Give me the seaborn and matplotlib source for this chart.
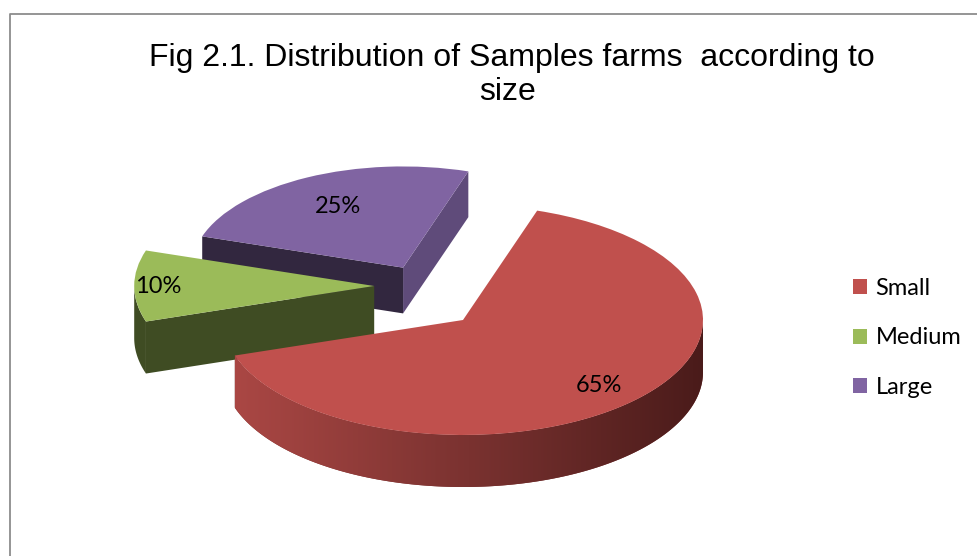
import numpy as np
import matplotlib
matplotlib.use("Agg")
import matplotlib.pyplot as plt
import seaborn as sns
from matplotlib.patches import Polygon
from matplotlib.colors import LinearSegmentedColormap

# dati del grafico
sizes = ["Small", "Medium", "Large"]
shares = [65, 10, 25]
explode = [0, 0.37, 0.55]

top_colors = ["#C0504D", "#9BBB59", "#8064A2"]
front_colors = ["#7B3331", "#3F4C23", "#32273F"]
light_colors = ["#7B3331", "#4A5A2A", "#5F4B7A"]

sns.set_style("white")
plt.rcParams['font.family'] = ['Lato', 'DejaVu Sans']
plt.rcParams['text.color'] = 'black'

W, H = 977, 556
CX, CY = 463, 320      # centro torta in pixel (da sinistra / dall'alto)
RX, RY = 240, 115      # semiassi dell'ellisse
DEPTH = 52 / RY        # spessore 3D in unita' dati

fig = plt.figure(figsize=(W / 100, H / 100), dpi=100)
ax = fig.add_axes([0, 0, 1, 1])

wedges, _ = ax.pie(shares, colors=top_colors, explode=explode,
                   startangle=72, counterclock=False,
                   wedgeprops=dict(linewidth=0))
ax.set_aspect('auto')
ax.set_xlim(-CX / RX, (W - CX) / RX)
ax.set_ylim(-(H - CY) / RY, CY / RY)
ax.axis('off')

# effetto prospettiva: Medium piu' in alto, Large (dietro) piu' piccola
cx, cy = wedges[1].center
wedges[1].set_center((cx, cy + 34 / RY))
cx, cy = wedges[2].center
wedges[2].set_center((cx, cy - 4 / RY))
wedges[2].set_radius(0.88)

side_cmap = LinearSegmentedColormap.from_list("side", ["#AA4744", "#7A3230", "#4A1B1A"])
zbase = [3, 2, 1]
label_dist = [0.8, 0.9, 0.68]

for i, w in enumerate(wedges):
    cx, cy = w.center
    r = w.r
    d = DEPTH * r
    t1, t2 = np.radians(w.theta1), np.radians(w.theta2)
    z = zbase[i]
    w.set_zorder(z + 0.5)

    # parte curva visibile (rivolta verso chi guarda)
    th = np.linspace(t1, t2, 400)
    vis = np.sin(th) < 0
    if vis.any():
        idx = np.where(vis)[0]
        runs = np.split(idx, np.where(np.diff(idx) > 1)[0] + 1)
        for run in runs:
            tt = th[run]
            xs = cx + r * np.cos(tt)
            ys = cy + r * np.sin(tt)
            pts = np.column_stack([np.r_[xs, xs[::-1]], np.r_[ys, ys[::-1] - d]])
            poly = Polygon(pts, closed=True, facecolor=front_colors[i], edgecolor='none', zorder=z)
            ax.add_patch(poly)
            if i == 0:
                grad = np.linspace(0, 1, 256).reshape(1, -1)
                im = ax.imshow(grad, cmap=side_cmap, aspect='auto', zorder=z + 0.1,
                               extent=(pts[:, 0].min(), pts[:, 0].max(),
                                       pts[:, 1].min(), pts[:, 1].max()))
                im.set_clip_path(poly)

    # facce radiali visibili
    for t, visible, col in [(t1, np.cos(t1) > 0, light_colors[i]),
                            (t2, np.cos(t2) < 0, front_colors[i])]:
        if not visible:
            continue
        ex, ey = cx + r * np.cos(t), cy + r * np.sin(t)
        pts = [(cx, cy), (ex, ey), (ex, ey - d), (cx, cy - d)]
        ax.add_patch(Polygon(pts, closed=True, facecolor=col, edgecolor='none', zorder=z))

    # etichette percentuali
    tm = (t1 + t2) / 2
    pct = shares[i] / sum(shares) * 100
    ax.text(cx + label_dist[i] * r * np.cos(tm), cy + label_dist[i] * r * np.sin(tm),
            f"{pct:.0f}%", ha='center', va='center', fontsize=17, zorder=10)

# legenda
ax.legend(wedges, sizes, loc='center left', bbox_to_anchor=(853 / W, 1 - 338 / H),
          bbox_transform=fig.transFigure, frameon=False, fontsize=17,
          handlelength=0.6, handleheight=0.6, handletextpad=0.35,
          labelspacing=1.2, borderpad=0, borderaxespad=0)

# titolo
title_font = ['Liberation Sans', 'DejaVu Sans']
fig.text(512 / W, 1 - 66 / H, "Fig 2.1. Distribution of Samples farms  according to",
         ha='center', va='baseline', fontsize=23, family=title_font)
fig.text(508 / W, 1 - 100 / H, "size", ha='center', va='baseline', fontsize=23, family=title_font)

# cornice
fig.add_artist(plt.Line2D([10 / W, 10 / W, 1], [0, 1 - 14 / H, 1 - 14 / H],
                          transform=fig.transFigure, color='#8c8c8c', lw=1.3))

fig.savefig("out.png", dpi=100)
